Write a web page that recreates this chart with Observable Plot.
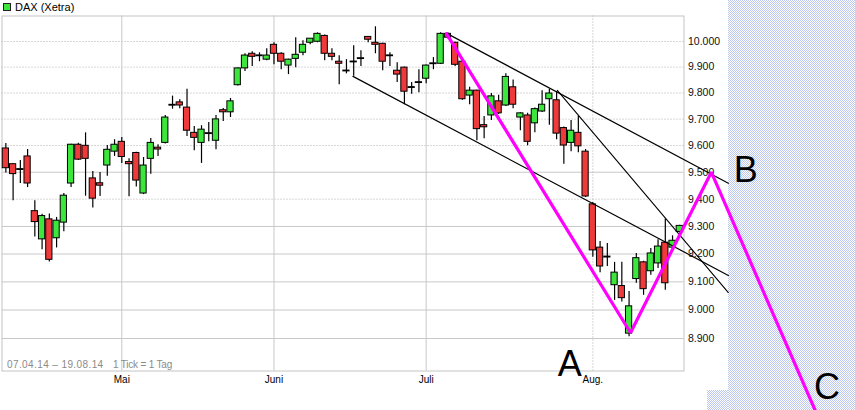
<!DOCTYPE html>
<html><head><meta charset="utf-8">
<script src="https://cdn.jsdelivr.net/npm/d3@7"></script>
<script src="https://cdn.jsdelivr.net/npm/@observablehq/plot@0.6"></script>
<style>
html,body{margin:0;padding:0;background:#fff;}
#wrap{position:relative;width:855px;height:410px;overflow:hidden;font-family:"Liberation Sans",Arial,sans-serif;}
.hatch{position:absolute;background-color:#fff;background-image:url("data:image/svg+xml,%3Csvg xmlns='http://www.w3.org/2000/svg' width='2' height='2' shape-rendering='crispEdges'%3E%3Crect width='1' height='1' fill='%23bcc7f0'/%3E%3Crect x='1' y='1' width='1' height='1' fill='%23bcc7f0'/%3E%3C/svg%3E");background-size:2px 2px;}
#chart{position:absolute;left:0;top:0;}
#legend{position:absolute;left:3px;top:1px;font-size:11px;color:#000;line-height:12px;white-space:nowrap;}
#legend .sw{display:inline-block;width:6px;height:6px;background:#3ce63c;border:1px solid #222;vertical-align:middle;margin-right:4px;position:relative;top:-1px;}
.cap{position:absolute;top:359px;font-size:10px;color:#8a8a8a;white-space:nowrap;line-height:12px;}
</style></head>
<body><div id="wrap">
<div class="hatch" style="left:728px;top:0;width:127px;height:410px"></div>
<div class="hatch" style="left:707px;top:390px;width:21px;height:20px"></div>
<div id="chart"></div>
<div id="legend"><span class="sw"></span>DAX (Xetra)</div>
<div class="cap" style="left:7px;letter-spacing:0.4px">07.04.14 – 19.08.14</div>
<div class="cap" style="left:113px;letter-spacing:-0.2px">1 Tick = 1 Tag</div>
</div>
<script>
// DAX (Xetra) daily candles, 07.04.14 – 19.08.14 (trading-day index 0..93)
const open  = [9589,9530,9510,9559,9356,9253,9326,9257,9314,9458,9603,9599,9477,9459,9525,9577,
  9614,9538,9572,9421,9550,9592,9610,9753,9764,9744,9648,9610,9645,9618,9734,9726,9830,9895,9952,9944,9929,
  9987,9952,9906,9932,9956,9995,9999,10022,9952,9921,9885,9920,9933,10018,9995,9991,9944,9886,9898,9821,9840,
  9855,9913,9913,10030,9995,9921,9790,9809,9677,9714,9768,9752,9822,9706,9714,9684,9729,9776,9772,9666,9610,9648,9577,
  9381,9223,9189,9088,9085,8917,9110,9170,9138,9166,9241,9223,9280];
const high  = [9608,9532,9544,9585,9394,9345,9346,9333,9421,9605,9609,9648,9503,9499,9600,9622,
  9630,9550,9575,9555,9627,9603,9714,9788,9774,9814,9672,9675,9687,9714,9741,9779,9897,9952,9960,9956,9972,
  9995,9956,9931,10015,10003,10011,10034,10026,9972,9944,9929,9983,9964,10020,10058,9993,9956,9917,9900,9840,9890,
  9908,9937,10034,10034,9997,9925,9822,9811,9710,9798,9791,9874,9850,9724,9722,9742,9809,9814,9806,9670,9695,9712,9585,
  9388,9245,9238,9170,9170,9066,9202,9174,9220,9252,9327,9266,9304];
const low   = [9497,9394,9458,9443,9262,9215,9171,9222,9281,9443,9544,9411,9368,9410,9485,9559,
  9533,9409,9445,9417,9492,9559,9606,9738,9740,9634,9580,9533,9614,9584,9691,9706,9827,9883,9902,9921,9925,
  9909,9890,9871,9898,9944,9987,9995,9925,9925,9832,9874,9865,9902,9995,9952,9886,9902,9840,9755,9795,9801,
  9836,9890,9910,10010,9902,9772,9755,9618,9626,9695,9718,9748,9740,9656,9599,9648,9725,9677,9622,9530,9577,9573,9406,
  9188,9133,9155,9034,9028,8906,9095,9052,9124,9148,9070,9219,9275];
const close = [9515,9493,9510,9458,9316,9338,9179,9321,9413,9603,9547,9550,9402,9450,9584,9603,
  9557,9530,9469,9525,9610,9585,9706,9753,9752,9656,9629,9660,9645,9699,9726,9768,9895,9945,9940,9944,9945,
  9952,9921,9929,9948,9987,10011,10030,9952,9940,9913,9885,9920,9933,10007,9987,9921,9944,9871,9805,9821,9840,
  9906,9913,10030,10015,9909,9776,9809,9662,9669,9787,9722,9862,9755,9722,9614,9738,9755,9798,9645,9600,9656,9597,9410,
  9213,9155,9189,9133,9042,9013,9185,9074,9202,9227,9095,9248,9302];

// month starts (trading-day index) and labels
const monthIdx    = [16, 37, 58, 81];
const monthLabels = ["Mai", "Juni", "Juli", "Aug."];
const gridMonthsSolid  = [16, 37, 58];
const gridMonthsDotted = [81];

// price axis
const yTicks      = [8900, 9000, 9100, 9200, 9300, 9400, 9500, 9600, 9700, 9800, 9900, 10000];
const gridSolid   = [8900, 9000, 9100, 9200, 9300, 9500];
const gridDotted  = [9400, 9600, 9700, 9800, 9900, 10000];

// drawn trend lines (index, value)
const channelUpper = [{i: 60.9, v: 10031}, {i: 99.7, v: 9459}];
const channelLower = [{i: 47.9, v: 9864},  {i: 99.7, v: 9123}];
const steepLine    = [{i: 76.1, v: 9810},  {i: 99.7, v: 9062}];
const abcPath      = [{i: 60.8, v: 10031}, {i: 86.2, v: 8920}, {i: 97.35, v: 9500}, {i: 112.3, v: 8618}];
const waveLabels   = [{t: "A", i: 77.8, v: 8809}, {t: "B", i: 102.1, v: 9508}, {t: "C", i: 113.3, v: 8729}];

const GREEN = "#3ce63c", RED = "#ee3a3a";
const candles = open.map((o, i) => ({i, o, h: high[i], l: low[i], c: close[i]}));
const bodyTop = d => Math.abs(d.o - d.c) < 3 ? d.o + 1.6 : Math.max(d.o, d.c);
const bodyBot = d => Math.abs(d.o - d.c) < 3 ? d.o - 1.6 : Math.min(d.o, d.c);

const deFmt = d3.formatLocale({decimal: ",", thousands: ".", grouping: [3], currency: ["", "€"]}).format(",.0f");

const chart = Plot.plot({
  width: 855, height: 410,
  marginLeft: 1.5, marginRight: 171.5, marginTop: 15.5, marginBottom: 39.5,
  style: {background: "transparent", overflow: "visible", fontFamily: "Liberation Sans, Arial, sans-serif", color: "#000"},
  x: {domain: [0, 93], range: [5.35, 679.3], axis: null},
  y: {type: "log", domain: [10000, 8900], range: [41, 338], axis: null},
  color: {type: "identity"},
  marks: [
    Plot.ruleY(gridSolid, {stroke: "#c8c8c8", strokeWidth: 1}),
    Plot.ruleY(gridDotted, {stroke: "#b0b0b0", strokeDasharray: "1,2"}),
    Plot.ruleX(gridMonthsSolid, {stroke: "#c8c8c8"}),
    Plot.ruleX(gridMonthsDotted, {stroke: "#b0b0b0", strokeDasharray: "1,2"}),
    Plot.frame({stroke: "#c4c4c4"}),
    Plot.text(yTicks, {y: d => d, text: d => deFmt(d), frameAnchor: "right", dx: 4, textAnchor: "start",
      lineAnchor: "middle", fontSize: 10.5, fill: "#111"}),
    Plot.text(monthIdx, {x: d => d, text: (d, k) => monthLabels[k], frameAnchor: "bottom", dy: 5,
      lineAnchor: "top", textAnchor: "middle", fontSize: 10, fill: "#000"}),
    Plot.ruleX(candles, {x: "i", y1: "l", y2: "h", stroke: "#000", strokeWidth: 1.2}),
    Plot.rect(candles, {x1: d => d.i - 0.43, x2: d => d.i + 0.43, y1: bodyTop, y2: bodyBot,
      fill: d => d.c >= d.o ? GREEN : RED, stroke: "#000", strokeWidth: 1}),
    Plot.line(channelUpper, {x: "i", y: "v", stroke: "#000", strokeWidth: 1.2}),
    Plot.line(channelLower, {x: "i", y: "v", stroke: "#000", strokeWidth: 1.2}),
    Plot.line(steepLine, {x: "i", y: "v", stroke: "#000", strokeWidth: 1.1}),
    Plot.line(abcPath, {x: "i", y: "v", stroke: "#ff00ff", strokeWidth: 3.2, strokeLinejoin: "miter"}),
    Plot.text(waveLabels, {x: "i", y: "v", text: "t", fontSize: 36, fill: "#000", textAnchor: "middle", lineAnchor: "middle"})
  ]
});
document.getElementById("chart").appendChild(chart);
</script>
</body></html>
